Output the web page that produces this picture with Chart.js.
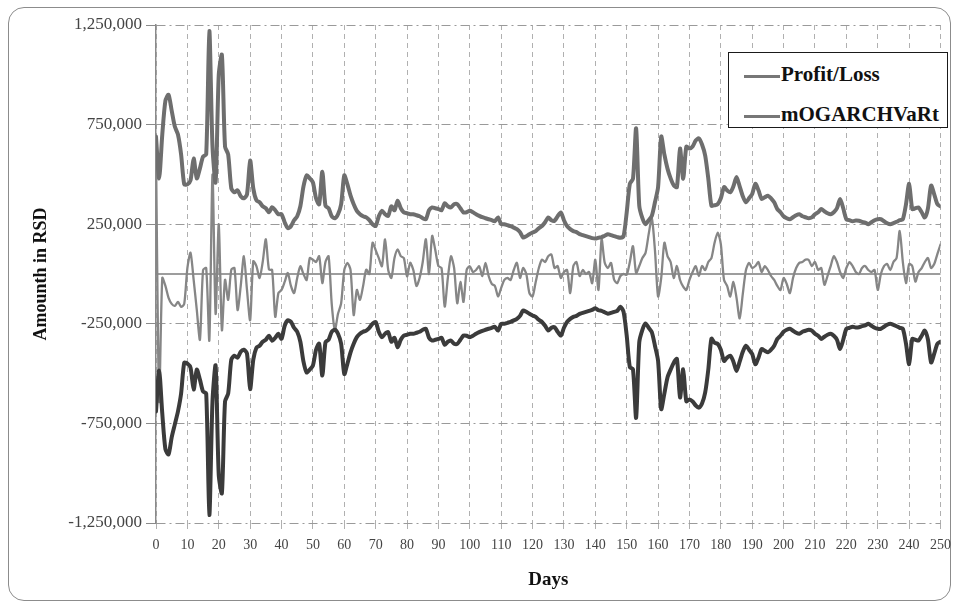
<!DOCTYPE html>
<html>
<head>
<meta charset="utf-8">
<script src="https://cdn.jsdelivr.net/npm/chart.js@4.4.0/dist/chart.umd.min.js"></script>
<style>
    html, body { margin: 0; padding: 0; background: #fff; }
    #wrap { position: relative; width: 959px; height: 609px; }
    #frame { position: absolute; left: 8px; top: 7px; width: 941px; height: 592px; border: 1px solid #8c8c8c; border-radius: 16px; }
    #myChart { position: absolute; left: 0; top: 0; }
    #legend { position: absolute; left: 728px; top: 52px; width: 218px; height: 74px; border: 1.5px solid #1a1a1a; background: #fff;
              font: bold 21px "Liberation Serif", serif; color: #111; }
    .item { position: absolute; left: 15px; height: 24px; line-height: 24px; white-space: nowrap; }
    .ln { display: inline-block; width: 36px; height: 3px; background: #777; vertical-align: middle; margin-right: 1px; }
</style>
</head>
<body>
<div id="wrap">
    <div id="frame"></div>
    <canvas id="myChart" width="959" height="609"></canvas>
    <div id="legend">
        <div class="item" style="top:9px"><span class="ln"></span>Profit/Loss</div>
        <div class="item" style="top:49px"><span class="ln"></span>mOGARCHVaRt</div>
    </div>
</div>
<script>
// values in thousands of RSD, one per day (0..250)
var profitLoss = [
    600,-640,-20,-60,-120,-150,-160,-140,-165,-150,
    30,107,-30,-180,-330,20,30,-333,500,-200,
    250,-282,-29,-130,22,30,-181,-60,89,-80,
    -232,64,40,-20,60,174,22,20,-215,-96,
    -80,-40,5,-60,-96,-20,39,0,-30,80,
    72,60,89,-46,60,89,-150,-282,-200,-147,
    20,56,20,-206,-80,-130,-60,22,0,157,
    120,80,39,174,20,-20,80,123,90,80,
    -12,56,20,-60,-20,60,174,0,191,120,
    40,30,-164,-20,89,30,-147,-40,-140,20,
    39,10,20,39,-10,56,-10,-50,-60,-113,
    -70,-30,-20,-30,20,56,-20,30,0,-96,
    -113,-40,30,72,60,89,98,30,40,-20,
    10,20,-96,40,60,-10,20,0,10,-46,
    72,-80,174,56,30,56,-29,-46,-10,0,
    -4,60,140,5,40,80,106,200,280,120,
    -113,-20,157,90,60,-20,40,-30,-63,-80,
    -30,10,39,-10,40,20,60,80,157,208,
    150,-29,-60,-113,-40,-120,-223,-100,20,56,
    30,40,60,10,40,20,-10,-30,-60,-80,
    -20,-50,-96,-20,30,56,60,72,70,40,
    60,20,30,-54,-10,40,89,60,10,-20,
    30,60,40,10,0,30,40,20,10,20,
    -80,0,40,50,20,60,80,216,60,-46,
    50,40,-38,10,30,60,80,30,50,100,
    148
];

var varUpper = [
    690,480,700,870,900,820,740,700,600,450,
    450,470,580,480,530,590,600,1220,640,460,
    1000,1100,640,600,430,410,420,390,380,400,
    570,430,370,360,340,330,310,335,320,300,
    300,260,230,240,270,290,340,440,495,480,
    460,380,350,513,343,330,290,280,300,350,
    495,450,393,350,317,300,290,284,270,250,
    241,290,317,300,292,340,320,368,330,309,
    305,300,300,295,290,280,275,320,334,330,
    326,320,355,340,334,350,351,330,309,310,
    317,310,300,292,285,280,275,270,265,284,
    250,250,245,240,233,225,210,183,190,200,
    208,215,230,241,260,284,270,267,290,309,
    270,240,225,215,210,200,195,190,185,180,
    178,182,185,192,199,195,190,185,182,190,
    309,453,478,731,343,280,250,270,292,360,
    436,690,600,529,480,445,436,630,478,639,
    630,640,670,681,650,596,480,343,345,351,
    380,436,420,410,440,487,440,390,360,380,
    402,453,420,377,385,393,380,360,326,310,
    290,280,275,285,295,300,290,285,280,284,
    300,310,326,315,305,300,310,330,377,330,
    275,270,265,268,267,262,258,250,260,270,
    275,275,265,255,250,255,262,270,275,350,
    453,326,330,334,310,284,330,444,400,351,
    340
];

var varLower = [
    -690,-485,-700,-880,-905,-820,-755,-690,-600,-445,
    -450,-470,-580,-480,-530,-590,-600,-1210,-640,-460,
    -1010,-1100,-640,-600,-430,-410,-420,-390,-380,-400,
    -578,-430,-370,-360,-340,-330,-310,-335,-320,-300,
    -325,-260,-232,-240,-270,-290,-340,-440,-494,-480,
    -460,-380,-350,-510,-343,-330,-290,-280,-300,-350,
    -502,-450,-393,-350,-317,-300,-290,-284,-270,-250,
    -241,-290,-317,-300,-292,-340,-320,-368,-330,-309,
    -305,-300,-300,-295,-290,-280,-275,-320,-334,-330,
    -326,-320,-355,-340,-334,-350,-351,-330,-309,-310,
    -317,-310,-300,-292,-285,-280,-275,-270,-265,-284,
    -250,-250,-245,-240,-233,-225,-210,-183,-190,-200,
    -208,-215,-230,-241,-260,-284,-270,-267,-290,-309,
    -270,-240,-225,-215,-210,-200,-195,-190,-185,-180,
    -172,-182,-185,-192,-199,-195,-190,-185,-164,-190,
    -309,-468,-478,-722,-343,-280,-248,-270,-292,-360,
    -436,-678,-600,-519,-480,-445,-426,-620,-478,-639,
    -630,-640,-660,-671,-650,-596,-480,-325,-345,-351,
    -380,-436,-420,-410,-440,-487,-440,-390,-360,-380,
    -402,-453,-420,-377,-385,-393,-380,-360,-326,-310,
    -290,-280,-275,-285,-295,-300,-290,-285,-280,-284,
    -300,-310,-326,-315,-305,-300,-310,-330,-377,-330,
    -275,-270,-265,-268,-267,-262,-258,-250,-260,-270,
    -275,-275,-265,-255,-250,-255,-262,-270,-275,-350,
    -453,-326,-330,-334,-310,-284,-330,-444,-400,-351,
    -340
];

var days = profitLoss.map(function (v, i) { return i; });
var yTicks = [-1250000, -750000, -250000, 250000, 750000, 1250000];

function toPoints(arr) {
    return arr.map(function (v, i) { return { x: days[i], y: v * 1000 }; });
}

// solid horizontal line at zero
var zeroLine = {
    id: 'zeroLine',
    beforeDatasetsDraw: function (chart) {
        var c = chart.ctx, a = chart.chartArea;
        var y = chart.scales.y.getPixelForValue(0);
        c.save();
        c.strokeStyle = '#7d7d7d';
        c.lineWidth = 1.5;
        c.beginPath();
        c.moveTo(a.left, y);
        c.lineTo(a.right, y);
        c.stroke();
        c.restore();
    }
};

var serif = '"Liberation Serif", "Times New Roman", serif';

var ctx = document.getElementById('myChart').getContext('2d');
var myChart = new Chart(ctx, {
    type: 'line',
    data: {
        datasets: [{
            label: 'mOGARCHVaRt',
            data: toPoints(varUpper),
            borderColor: '#6e6e6e',
            borderWidth: 4,
            order: 0
        }, {
            label: 'mOGARCHVaRt (lower)',
            data: toPoints(varLower),
            borderColor: '#3b3b3b',
            borderWidth: 4,
            order: 0
        }, {
            label: 'Profit/Loss',
            data: toPoints(profitLoss),
            borderColor: '#868686',
            borderWidth: 2.3,
            order: 1
        }]
    },
    options: {
        responsive: false,
        animation: false,
        layout: { padding: { top: 25, right: 17, bottom: 0, left: 0 } },
        elements: {
            point: { radius: 0 },
            line: { tension: 0.25, borderCapStyle: 'round', borderJoinStyle: 'round' }
        },
        plugins: { legend: { display: false }, tooltip: { enabled: false } },
        scales: {
            x: {
                type: 'linear',
                min: 0,
                max: 250,
                afterFit: function (s) { s.height = 86; },
                ticks: { stepSize: 10, autoSkip: false, maxRotation: 0, padding: 8,
                         color: '#444', font: { family: serif, size: 14 } },
                grid: { color: '#b0b0b0', lineWidth: 1, tickLength: 6, tickColor: '#b0b0b0' },
                border: { display: false, dash: [5, 4] },
                title: { display: true, text: 'Days', color: '#111', padding: 18,
                         font: { family: serif, size: 19, weight: 'bold' } }
            },
            y: {
                min: -1250000,
                max: 1250000,
                afterFit: function (s) { s.width = 156; },
                afterBuildTicks: function (s) { s.ticks = yTicks.map(function (v) { return { value: v }; }); },
                ticks: { padding: 4, color: '#444', font: { family: serif, size: 17 },
                         callback: function (v) { return v.toLocaleString('en-US'); } },
                grid: { color: '#9a9a9a', lineWidth: 1, tickLength: 10, tickColor: '#8a8a8a' },
                border: { display: true, color: '#8a8a8a', width: 1.5, dash: [9, 4, 2, 4] },
                title: { display: true, text: 'Amounth in RSD', color: '#111', padding: 31,
                         font: { family: serif, size: 18, weight: 'bold' } }
            }
        }
    },
    plugins: [zeroLine]
});
</script>
</body>
</html>
